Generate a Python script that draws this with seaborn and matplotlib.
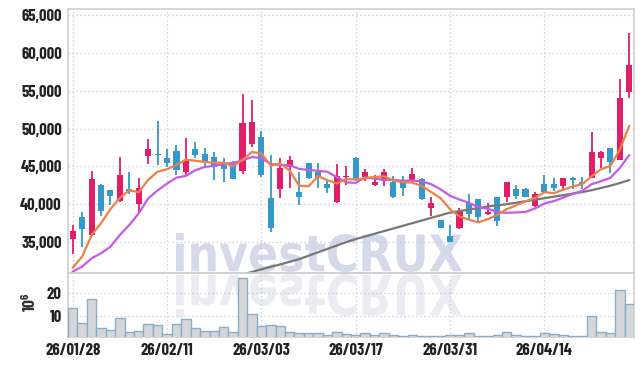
import numpy as np
import pandas as pd
import matplotlib
matplotlib.use("Agg")
import matplotlib.pyplot as plt
import seaborn as sns
from matplotlib.textpath import TextPath
from matplotlib.patches import PathPatch
from matplotlib.font_manager import FontProperties
from matplotlib.transforms import Affine2D, IdentityTransform
from matplotlib.ticker import FuncFormatter, FixedLocator

# ---------------- data ----------------
opens = [35370, 38320, 35940, 42540, 41840, 40430, 41970, 40080, 46420, 46640,
         46110, 47040, 44300, 47300, 46640, 46240, 45190, 45630, 44430, 47960,
         48930, 40780, 42020, 44970, 41620, 45450, 44310, 42630, 40260, 43650,
         46150, 43600, 42540, 43120, 42900, 43070, 43070, 43340, 39550, 37920,
         35850, 36910, 40120, 40650, 38670, 40920, 41000, 41970, 41970, 39810,
         42630, 42630, 42410, 43510, 42900, 43510, 46070, 47390, 45850, 54870]
highs = [37260, 38930, 44440, 42630, 41840, 46200, 44220, 43420, 48580, 51000,
         47300, 47830, 48710, 48270, 47390, 46950, 46070, 45710, 54520, 53770,
         49680, 46510, 46150, 46420, 44220, 45500, 45410, 43340, 45270, 45100,
         46300, 44660, 43870, 44660, 43690, 43780, 44750, 43420, 41000, 37950,
         37260, 39460, 41310, 40700, 40120, 40950, 42900, 42540, 42100, 41580,
         43870, 43430, 43430, 43650, 43550, 49500, 47040, 47480, 56550, 62580]
lows = [33390, 34400, 35850, 38490, 39900, 40340, 41310, 38930, 45320, 45190,
        44970, 43870, 43870, 46070, 44970, 43200, 42900, 43300, 43950, 47520,
        43600, 36290, 40780, 42190, 39900, 43340, 42190, 41440, 40120, 42540,
        43100, 43070, 42460, 42460, 40870, 41140, 42980, 40560, 38490, 36880,
        34950, 36690, 38050, 37570, 38580, 37130, 40260, 40650, 40950, 39680,
        41580, 41750, 41750, 42020, 41950, 43450, 44830, 44090, 45800, 54080]
closes = [36470, 36780, 43340, 39110, 41140, 43870, 41750, 42100, 47300, 46460,
          45490, 44570, 45710, 46510, 45630, 44970, 44660, 43340, 50690, 50870,
          43870, 36820, 44750, 45850, 41000, 43420, 43510, 42100, 43730, 43780,
          43340, 44220, 42900, 44220, 41000, 42190, 43950, 40700, 40210, 36910,
          34970, 39110, 38670, 38360, 39020, 37830, 42900, 41140, 41000, 41310,
          41660, 42190, 43430, 43250, 42700, 46860, 46860, 45630, 54080, 58400]
volumes = [13.2, 6.7, 17.1, 4.5, 3.6, 8.9, 2.8, 3.2, 6.3, 5.8,
           1.9, 6.3, 8.4, 4.5, 3.2, 3.2, 5.0, 2.8, 26.3, 10.6,
           5.5, 6.0, 5.4, 3.0, 2.3, 2.3, 2.3, 1.5, 2.8, 2.0,
           1.7, 2.3, 1.6, 2.3, 1.5, 1.0, 1.5, 1.3, 1.3, 1.0,
           1.5, 1.5, 2.3, 1.0, 1.0, 1.5, 2.8, 1.5, 1.0, 1.0,
           2.3, 1.9, 1.5, 1.0, 1.0, 10.0, 2.8, 2.3, 21.0, 15.0]
# moving-average values before the window is complete
ma5_head = [31620, 33080, 35940, 37480]
ma10_head = [31100, 31760, 32860, 33520, 34400, 35940, 37260, 38800, 40780]
# long moving average (grey), below the visible range before the 19th session
ma_long = [None] * 18 + [
    30700, 31050, 31400, 31750, 32050, 32400, 32750, 33200, 33650, 34100,
    34550, 35000, 35400, 35750, 36100, 36450, 36800, 37150, 37500, 37850,
    38200, 38550, 38900, 39100, 39300, 39500, 39700, 39850, 40000, 40200,
    40400, 40600, 40800, 41000, 41200, 41400, 41600, 41850, 42150, 42450,
    42800, 43200]
tick_labels = ["26/01/28", "26/02/11", "26/03/03", "26/03/17", "26/03/31", "26/04/14"]

# ---------------- frame ----------------
n = len(closes)
df = pd.DataFrame({"idx": np.arange(n), "open": opens, "high": highs, "low": lows,
                   "close": closes, "vol": volumes})
df["ma5"] = df["close"].rolling(5).mean()
df.loc[:len(ma5_head) - 1, "ma5"] = ma5_head
df["ma10"] = df["close"].rolling(10).mean()
df.loc[:len(ma10_head) - 1, "ma10"] = ma10_head
df["malong"] = pd.to_numeric(pd.Series(ma_long), errors="coerce")

sns.set_style("white")
plt.rcParams["font.family"] = ["Barlow Condensed", "DejaVu Sans"]
plt.rcParams["font.weight"] = "bold"
plt.rcParams["mathtext.fontset"] = "custom"
plt.rcParams["mathtext.rm"] = "Barlow Condensed:bold"

W, H = 642, 366
fig = plt.figure(figsize=(W / 100, H / 100), dpi=100)
fig.patch.set_facecolor("white")
L, R = 68, 634
ax = fig.add_axes([L / W, 1 - 272.7 / H, (R - L) / W, (272.7 - 9) / H])
axv = fig.add_axes([L / W, 1 - 337.3 / H, (R - L) / W, (337.3 - 272.7) / H], sharex=ax)
for a in (ax, axv):
    a.set_facecolor("none")

# watermark with reflection
fp = FontProperties(family="DejaVu Sans", weight="bold")
tp = TextPath((0, 0), "investCRUX", size=50, prop=fp)
ext = tp.get_extents()
x0, x1 = 176, 462
def box_tr(top_img, bot_img, flip=False):
    sx = (x1 - x0) / ext.width
    sy = (bot_img - top_img) / ext.height
    t = Affine2D().translate(-ext.x0, -ext.y0)
    if flip:
        t = t.scale(sx, -sy).translate(x0, H - bot_img + (bot_img - top_img))
    else:
        t = t.scale(sx, sy).translate(x0, H - bot_img)
    return t
wm = PathPatch(tp, facecolor="#d5d9ea", edgecolor="none", zorder=-1,
               transform=box_tr(233, 272) + IdentityTransform())
fig.add_artist(wm)
wm2 = PathPatch(tp, facecolor="#ebecf2", edgecolor="none", zorder=-1,
                transform=box_tr(274, 317, flip=True) + IdentityTransform())
fig.add_artist(wm2)

# candles
up = df["close"] >= df["open"]
red, blue = "#e31e68", "#3399cc"
cols = np.where(up, red, blue)
ax.vlines(df["idx"], df["low"], df["high"], colors=cols, lw=1.3, zorder=3)
body_lo = np.minimum(df["open"], df["close"])
body_h = np.maximum(np.abs(df["close"] - df["open"]), 80)
ax.bar(df["idx"], body_h, bottom=body_lo, width=0.64, color=cols, zorder=4,
       linewidth=0)

# moving averages
sns.lineplot(data=df, x="idx", y="malong", ax=ax, color="#777777", lw=1.6, zorder=5)
sns.lineplot(data=df, x="idx", y="ma10", ax=ax, color="#c45ae8", lw=1.6, zorder=6)
sns.lineplot(data=df, x="idx", y="ma5", ax=ax, color="#ef8046", lw=1.6, zorder=7)

# volume
sns.barplot(data=df, x="idx", y="vol", ax=axv, native_scale=True, width=1.0,
            color="#d6d6d9", edgecolor="#88aecb", linewidth=1.0, saturation=1,
            errorbar=None, zorder=3)

# axes styling
ax.set_xlim(-0.5, n - 0.5)
ax.set_ylim(30958, 65790)
axv.set_ylim(0.6, 28.7)
ticks = list(range(0, n, 10))
for a in (ax, axv):
    a.xaxis.set_major_locator(FixedLocator(ticks))
    a.grid(True, ls=(0, (1, 2.2)), color="#c3c7dc", lw=0.9)
    a.set_axisbelow(True)
    for s in a.spines.values():
        s.set_color("#cfd0d6")
        s.set_linewidth(1.2)
    a.tick_params(length=0, colors="#222222", labelsize=12)
    a.set_xlabel("")
    a.set_ylabel("")
ax.set_yticks(range(35000, 65001, 5000))
ax.yaxis.set_major_formatter(FuncFormatter(lambda v, p: f"{int(v):,}"))
ax.tick_params(axis="y", pad=4.5)
ax.tick_params(axis="x", labelbottom=False)
axv.set_yticks([10, 20])
axv.tick_params(axis="y", pad=4.5)
axv.set_xticks(ticks)
axv.set_xticklabels(tick_labels)
axv.tick_params(axis="x", pad=4)
axv.set_xlim(-0.5, n - 0.5)
axv.text(-0.068, 0.55, r"$\mathregular{10^6}$", transform=axv.transAxes,
         rotation=90, ha="center", va="center", fontsize=12.5, color="#333333")

fig.savefig("out.png", dpi=100)
